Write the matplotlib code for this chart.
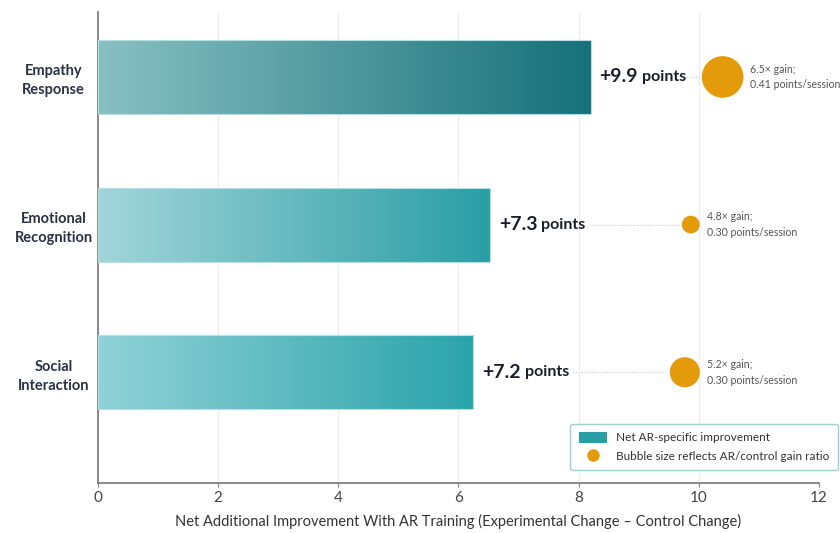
import numpy as np
import matplotlib
matplotlib.use("Agg")
import matplotlib.pyplot as plt
from matplotlib.colors import LinearSegmentedColormap
from matplotlib.patches import Rectangle
from matplotlib.lines import Line2D

plt.rcParams['font.family'] = ['Lato', 'DejaVu Sans']

categories = ["Empathy\nResponse", "Emotional\nRecognition", "Social\nInteraction"]
bar_values = [8.2, 6.52, 6.25]
point_labels = ["+9.9", "+7.3", "+7.2"]
bubble_x = [10.4, 9.87, 9.77]
bubble_size = [900, 165, 470]
gain_labels = ["6.5\u00d7 gain;\n0.41 points/session",
               "4.8\u00d7 gain;\n0.30 points/session",
               "5.2\u00d7 gain;\n0.30 points/session"]
bar_colors = [("#88c0c2", "#17707a"), ("#a2d5d9", "#2a9ea5"), ("#90d2d7", "#2aa3aa")]

fig = plt.figure(figsize=(8.4, 5.33), dpi=100)
ax = fig.add_axes([0.1167, 0.0938, 0.858, 0.8837])

ys = np.arange(len(categories))
h = 0.5
grad = np.linspace(0, 1, 256).reshape(1, -1)
for y, v, (c0, c1) in zip(ys, bar_values, bar_colors):
    cmap = LinearSegmentedColormap.from_list("g", [c0, c1])
    im = ax.imshow(grad, cmap=cmap, aspect="auto", extent=(0, v, y + h / 2, y - h / 2), zorder=2)
    rect = Rectangle((0, y - h / 2), v, h, facecolor="none", edgecolor="#b5dfe1", lw=0.8, zorder=3)
    ax.add_patch(rect)
    im.set_clip_path(rect)

ax.set_xlim(0, 12)
ax.set_ylim(2.75, -0.44)
ax.set_xticks(range(0, 13, 2))
ax.set_yticks(ys)
ax.set_yticklabels(categories, fontsize=10.5, fontweight="bold", color="#2b3142",
                   multialignment="center", linespacing=1.45)
for lbl in ax.get_yticklabels():
    lbl.set_horizontalalignment("center")
ax.tick_params(axis="y", length=0, pad=32)
ax.tick_params(axis="x", length=3, color="#888888", labelsize=11, labelcolor="#444444", pad=3)
ax.grid(axis="x", color="#e4e4e4", lw=0.8, ls=(0, (2, 1)), zorder=0)
for s in ["top", "right"]:
    ax.spines[s].set_visible(False)
ax.spines["left"].set_color("#777777")
ax.spines["bottom"].set_color("#777777")
ax.spines["left"].set_linewidth(1.2)
ax.spines["bottom"].set_linewidth(1.2)
ax.set_xlabel("Net Additional Improvement With AR Training (Experimental Change \u2013 Control Change)",
              fontsize=10.5, color="#333333", labelpad=6)

fig.canvas.draw()
r = fig.canvas.get_renderer()
inv = ax.transData.inverted()
for y, v, lab, bx, bs, gl in zip(ys, bar_values, point_labels, bubble_x, bubble_size, gain_labels):
    t1 = ax.text(v + 0.15, y, lab, fontsize=14, fontweight="bold", color="#1c1f2a", va="center", zorder=4)
    bb = t1.get_window_extent(r)
    x2 = inv.transform((bb.x1 + 4, 0))[0]
    t2 = ax.text(x2, y, "points", fontsize=11.5, fontweight="bold", color="#1c1f2a", va="center", zorder=4)
    bb2 = t2.get_window_extent(r)
    xe = inv.transform((bb2.x1 + 4, 0))[0]
    rad_px = np.sqrt(bs) / 0.72 / 2
    xb = inv.transform((ax.transData.transform((bx, 0))[0] - rad_px - 3, 0))[0]
    ax.plot([xe, xb], [y, y], color="#c8c8c8", lw=0.8, ls=(0, (1, 1.5)), zorder=1)
    ax.scatter([bx], [y], s=bs, color="#e39b0c", zorder=5, edgecolors="none")
    xt = inv.transform((ax.transData.transform((bx, 0))[0] + rad_px + 7, 0))[0]
    ax.text(xt, y, gl, fontsize=7.6, color="#555555", va="center", linespacing=1.5, zorder=4)

handles = [Rectangle((0, 0), 1, 1, facecolor="#2a9ea5", edgecolor="none"),
           Line2D([], [], marker="o", ls="none", markersize=9, markerfacecolor="#e39b0c", markeredgecolor="none")]
leg = ax.legend(handles, ["Net AR-specific improvement", "Bubble size reflects AR/control gain ratio"],
                loc="lower right", bbox_to_anchor=(1.035, 0.015), fontsize=8.5, frameon=True,
                fancybox=True, edgecolor="#9ecfd1", handlelength=2.4, handleheight=1.0,
                borderpad=0.7, labelspacing=0.6, framealpha=1)
leg.get_frame().set_linewidth(1.0)
for t in leg.get_texts():
    t.set_color("#333333")

fig.savefig("out.png", dpi=100)
